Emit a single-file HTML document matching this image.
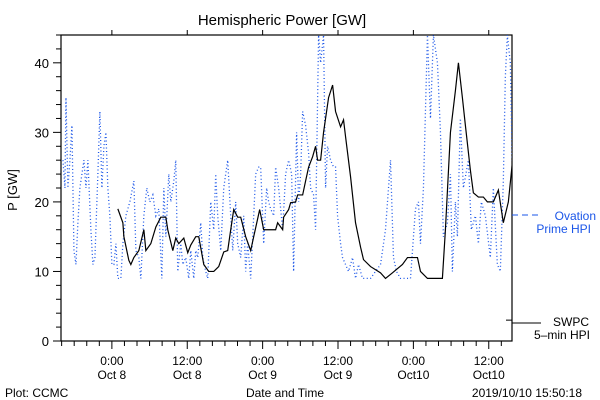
<!DOCTYPE html>
<html><head><meta charset="utf-8"><style>
html,body{margin:0;padding:0;background:#fff;}
svg{display:block;font-family:"Liberation Sans",sans-serif;}
</style></head><body>
<svg id="chart" width="600" height="400" viewBox="0 0 600 400" xmlns="http://www.w3.org/2000/svg">
<rect width="600" height="400" fill="#fff"/>
<text x="282" y="25" font-size="15" text-anchor="middle" fill="#000">Hemispheric Power [GW]</text>
<text transform="translate(17,190) rotate(-90)" font-size="13" text-anchor="middle">P [GW]</text>
<g id="axes"></g>
<g id="series"></g>
<line x1="512" y1="215" x2="541" y2="215" stroke="#1a55e8" stroke-width="1" stroke-dasharray="6 4"/>
<text x="596" y="220" font-size="12" text-anchor="end" fill="#1a55e8">Ovation</text>
<text x="591" y="233" font-size="12" text-anchor="end" fill="#1a55e8">Prime HPI</text>
<line x1="512" y1="323" x2="541" y2="323" stroke="#000"/>
<text x="589" y="326" font-size="12" text-anchor="end">SWPC</text>
<text x="590" y="339" font-size="12" text-anchor="end">5–min HPI</text>
<text x="285" y="397" font-size="12" text-anchor="middle">Date and Time</text>
<text x="5" y="397" font-size="12">Plot: CCMC</text>
<text x="582" y="397" font-size="12" text-anchor="end">2019/10/10 15:50:18</text>
</svg>
<script>
// hours relative to 2019-10-08 00:00
const swpcHours=[0.95,1.75,1.91,2.70,3.02,3.50,4.29,5.09,5.41,6.20,7.00,7.79,8.59,8.90,9.70,10.17,10.65,11.45,12.08,12.56,13.35,13.83,14.63,15.42,16.22,17.01,17.81,18.44,18.92,19.40,20.03,20.51,21.30,22.10,22.58,23.53,24.17,25.28,26.07,26.39,27.19,27.34,28.14,28.46,29.25,29.57,30.37,30.84,31.32,31.96,32.43,32.75,33.23,33.70,34.50,35.14,35.61,36.41,36.88,37.20,38.00,38.79,39.59,40.06,41.18,42.77,43.56,44.67,46.26,47.06,48.65,49.13,50.24,52.62,53.10,53.90,54.69,55.17,55.80,56.28,57.07,57.55,58.35,59.14,59.78,60.73,61.53,62.32,63.12,63.75];
const swpcValues=[19,17,15,11.6,11,12,13,16,13,14,16.4,17.8,17.8,16,13,14.8,14,14.8,12.7,13.8,15,15,11,10,10,10.7,12.8,13,16,18.9,17.8,17.8,15,13,15,18.9,16,16,16,17,16,17.8,18.9,19.9,20,21,21,23,25,26.5,28,26,26,30,35,36.8,33,30.8,31.8,29.4,23.6,17,13.5,11.7,10.7,9.8,9,9.8,11,12,12,10,9,9,16,30,36,40,35,31,24.6,21.3,20.7,20.7,20,20,21.7,17,20,25.6];
const ovationHours=[-7.79,-7.47,-7.31,-7.00,-6.68,-6.36,-6.04,-5.72,-5.41,-5.09,-4.77,-4.45,-4.13,-3.82,-3.34,-3.02,-2.70,-2.23,-1.91,-1.59,-1.27,-0.95,-0.64,-0.32,0,0.32,0.64,0.95,1.43,1.75,2.23,2.86,3.50,3.82,4.29,4.61,5.09,5.56,6.04,6.52,7.00,7.47,7.95,8.27,8.59,9.06,9.38,9.86,10.17,10.49,10.97,11.29,11.76,12.24,12.56,13.04,13.35,13.67,14.15,14.47,14.94,15.26,15.74,16.22,16.53,16.85,17.33,17.81,18.12,18.44,18.92,19.24,19.71,20.03,20.51,20.99,21.30,21.62,22.10,22.58,22.89,23.37,23.69,24.17,24.64,24.96,25.28,25.76,26.07,26.55,27.19,27.66,28.14,28.62,28.93,29.41,29.73,30.05,30.37,30.84,31.32,31.64,32.11,32.43,32.91,33.23,33.70,34.02,34.34,34.82,35.29,35.61,35.93,36.41,36.72,37.20,37.68,38.31,38.79,39.27,39.90,40.54,41.18,41.97,42.77,43.56,44.36,44.83,45.31,45.95,46.74,47.54,48.33,48.81,49.13,49.60,50.24,50.72,51.19,51.83,52.31,52.78,53.42,53.90,54.21,54.69,55.01,55.48,55.96,56.76,57.23,57.87,58.35,58.82,59.46,60.25,60.73,61.37,61.84,62.32,62.64,62.96,63.43,63.75];
const ovationValues=[26,22,35,22,26,31,13,11,17,22,24,26,22,26,16,11,12,24,33,22,28,30,22,18,11,11,14,9,9,14,18,20,23,13,12,9,18,22,20,21,18,19,9,22,15,24,20,23,26,10,14,11,12,9,13,9,13,12,17,12,10,9,20,16,24,18,13,22,24,26,18,13,20,14,12,18,10,14,9,18,24,25,25,14,22,20,19,18,25,22,16,24,26,24,10,30,20,24,33,31,27,22,21,16,44,40,44,22,28,26,25,25,18,14,12,11,10,12,9,11,9,9,9,10,11,16,26,12,10,9,9,9,19,20,14,22,44,32,44,40,30,15,17,24,10,20,15,32,22,26,16,18,14,20,18,12,22,11,10,23,38,44,40,26];
const yTicks=[0,10,20,30,40];
const xTickHours=[0,12,24,36,48,60];
const xTickLabels=[["0:00","Oct 8"],["12:00","Oct 8"],["0:00","Oct 9"],["12:00","Oct 9"],["0:00","Oct10"],["12:00","Oct10"]];

const L=61,R=512,T=35,B=341,H0=-8.1,H1=63.7,Y0=0,Y1=44;
const sx=h=>L+(h-H0)/(H1-H0)*(R-L);
const sy=v=>B-(v-Y0)/(Y1-Y0)*(B-T);
const NS="http://www.w3.org/2000/svg";
function mk(tag,attrs,parent){const e=document.createElementNS(NS,tag);for(const k in attrs)e.setAttribute(k,attrs[k]);parent.appendChild(e);return e;}
const axes=document.getElementById('axes');
const series=document.getElementById('series');

const frame=mk('rect',{x:L,y:T,width:R-L,height:B-T,fill:'none',stroke:'#000','stroke-width':1.2},axes);



for(let v=0;v<=44;v+=2){
  const major=v%10===0;
  const t=mk('line',{x1:L-(major?8:5),x2:L,y1:sy(v),y2:sy(v),stroke:'#000'},axes);
  
  
}
yTicks.forEach(v=>{
  const t=mk('text',{x:L-12,y:sy(v)+5,'font-size':13,'text-anchor':'end'},axes);
  t.textContent=v;
  
  
});
const rt=mk('line',{x1:R-6,x2:R,y1:sy(3),y2:sy(3),stroke:'#000'},axes);



for(let h=-8;h<=63;h+=2){
  const major=h%12===0;
  const t=mk('line',{x1:sx(h),x2:sx(h),y1:B,y2:B+(major?8:5),stroke:'#000'},axes);
  
  
}
xTickHours.forEach((h,i)=>{
  const tt=mk('line',{x1:sx(h),x2:sx(h),y1:T-5,y2:T,stroke:'#000'},axes);
  
  
  const a=mk('text',{x:sx(h),y:365,'font-size':12,'text-anchor':'middle'},axes);
  a.textContent=xTickLabels[i][0];
  
  
  const b=mk('text',{x:sx(h),y:379,'font-size':12,'text-anchor':'middle'},axes);
  b.textContent=xTickLabels[i][1];
  
  
});

const clip=mk('clipPath',{id:'pc'},series);
mk('rect',{x:L,y:T,width:R-L,height:B-T},clip);

const op=mk('polyline',{points:ovationHours.map((h,i)=>sx(h)+','+sy(ovationValues[i])).join(' '),fill:'none',stroke:'#1a55e8','stroke-width':1.3,'stroke-dasharray':'1 2.5','clip-path':'url(#pc)'},series);



const sp=mk('polyline',{points:swpcHours.map((h,i)=>sx(h)+','+sy(swpcValues[i])).join(' '),fill:'none',stroke:'#000','stroke-width':1.2,'clip-path':'url(#pc)'},series);


</script>
</body></html>
